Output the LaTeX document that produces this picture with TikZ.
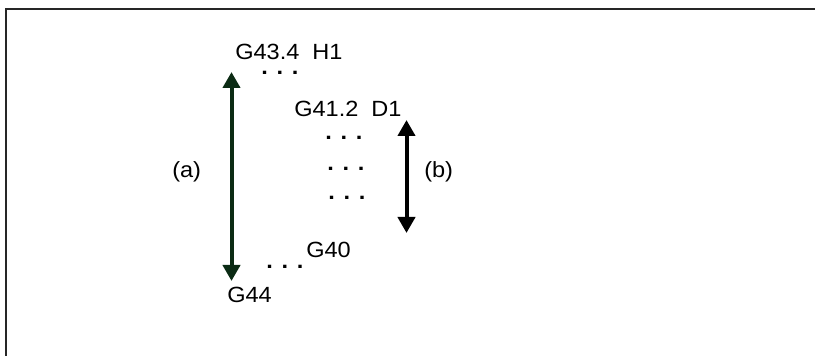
\documentclass[tikz,border=0pt]{standalone}
\usepackage{fontspec}
\setmainfont{Liberation Sans}[FakeStretch=1.07]
\usetikzlibrary{arrows.meta}
\definecolor{spanblack}{HTML}{0B2B14}
\tikzset{
  code/.style  = {anchor=base west, inner sep=0pt, font=\fontsize{16.5pt}{19pt}\selectfont},
  more/.style  = {anchor=base west, inner sep=0pt, font=\fontsize{16.5pt}{19pt}\selectfont\bfseries},
  span/.style  = {line width=3pt, {Triangle[length=12pt, width=12.75pt]}-{Triangle[length=12pt, width=12.75pt]}},
  frame/.style = {line width=1.5pt, draw=black!85},
}
\begin{document}
\begin{tikzpicture}[x=0.75pt, y=-0.75pt]
\useasboundingbox (0,0) rectangle (815,356);

% Frame (top and left edges only)
\draw [frame] (815,9) -- (6,9) -- (6,356);

% Outer block
\node (h1)  [code] at (235,60)    {G43.4\ \ H1};
\node (dh)  [more] at (261,75)    {. . .};
\node (g44) [code] at (227,303)   {G44};
\node (dg)  [more] at (266,268.5) {. . .};

% Inner block
\node (d1)  [code] at (294,117)   {G41.2\ \ D1};
\node (m1)  [more] at (325,140)   {. . .};
\node (m2)  [more] at (327,170.5) {. . .};
\node (m3)  [more] at (328,200)   {. . .};
\node (g40) [code] at (306,258)   {G40};

% Spans
\coordinate (atop) at (231.5,72);
\coordinate (abot) at (231.5,281);
\coordinate (btop) at (406.5,120);
\coordinate (bbot) at (406.5,233);
\draw [span, draw=spanblack, fill=spanblack] (atop) -- (abot);
\draw [span] (btop) -- (bbot);
\node (la) [code] at (172,178) {(a)};
\node (lb) [code] at (424,178) {(b)};

\end{tikzpicture}
\end{document}
